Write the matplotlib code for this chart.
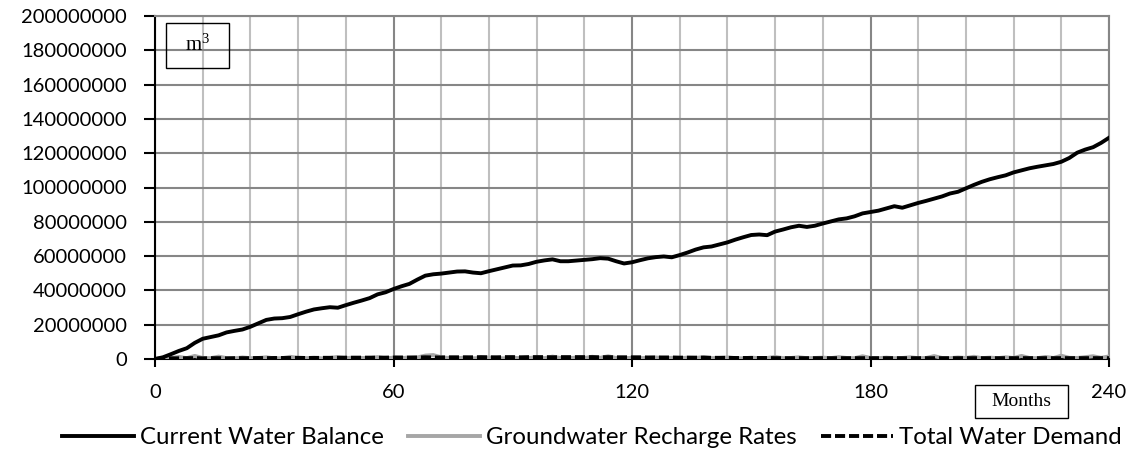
import numpy as np
import matplotlib
matplotlib.use("Agg")
import matplotlib.pyplot as plt
from matplotlib.patches import Rectangle
from matplotlib.ticker import MultipleLocator, FuncFormatter

# months read every 2 months, values in million m3
months = list(range(0, 241, 2))

balance = [0, 1.0, 2.8, 4.7, 6.3, 9.4, 11.8, 12.8, 13.8, 15.5,
           16.4, 17.2, 18.8, 20.8, 22.8, 23.6, 23.8, 24.5, 26.1, 27.6,
           28.9, 29.6, 30.2, 29.9, 31.4, 32.8, 34.1, 35.5, 37.7, 38.9,
           40.8, 42.4, 43.8, 46.3, 48.6, 49.4, 49.8, 50.4, 51.0, 51.1,
           50.4, 50.0, 51.2, 52.3, 53.4, 54.5, 54.6, 55.4, 56.7, 57.5,
           58.1, 57.0, 57.0, 57.4, 57.8, 58.2, 58.8, 58.5, 57.0, 55.7,
           56.4, 57.6, 58.7, 59.4, 59.8, 59.3, 60.6, 62.1, 63.8, 65.1,
           65.6, 66.8, 68.0, 69.6, 71.0, 72.3, 72.6, 72.2, 74.3, 75.5,
           76.8, 77.7, 77.0, 77.7, 79.0, 80.2, 81.4, 82.0, 83.2, 84.9,
           85.7, 86.5, 87.8, 89.1, 88.2, 89.6, 91.0, 92.2, 93.5, 94.8,
           96.5, 97.5, 99.5, 101.5, 103.3, 104.8, 106.0, 107.1, 108.8, 110.0,
           111.2, 112.1, 112.9, 113.7, 115.0, 117.2, 120.3, 122.1, 123.5, 126.0,
           129.0]

recharge = [0, 0.4, 0.6, 1.2, 0.5, 1.8, 0.6, 0.5, 1.4, 0.5,
            0.4, 0.9, 0.5, 0.6, 1.0, 0.4, 0.5, 1.3, 0.6, 0.5,
            0.8, 0.4, 0.6, 1.2, 0.5, 0.9, 0.6, 0.5, 1.1, 0.4,
            0.8, 0.5, 1.0, 0.9, 2.0, 2.3, 1.0, 0.6, 0.5, 0.8,
            0.4, 0.6, 0.9, 0.5, 0.4, 0.7, 0.5, 0.6, 1.0, 0.5,
            1.4, 0.6, 0.5, 0.8, 0.6, 1.3, 0.7, 1.6, 0.6, 0.5,
            0.7, 0.5, 0.6, 0.9, 0.5, 0.7, 0.5, 0.8, 0.6, 1.1,
            0.5, 0.6, 0.9, 0.5, 0.4, 0.8, 0.5, 0.6, 1.2, 0.5,
            0.6, 1.0, 0.5, 0.6, 0.8, 0.5, 1.1, 0.6, 0.5, 1.6,
            0.6, 0.5, 0.8, 0.5, 0.6, 1.0, 0.5, 0.6, 1.7, 0.6,
            0.5, 0.9, 0.6, 1.3, 0.5, 0.8, 0.5, 1.0, 0.6, 1.8,
            0.6, 0.5, 1.2, 0.6, 1.9, 0.7, 0.6, 1.1, 1.6, 0.7,
            1.5]

demand = [0, 0.3, 0.4, 0.4, 0.5, 0.5, 0.4, 0.5, 0.5, 0.4,
          0.5, 0.5, 0.5, 0.6, 0.5, 0.6, 0.6, 0.6, 0.7, 0.6,
          0.6, 0.7, 0.7, 0.7, 0.8, 0.7, 0.8, 0.8, 0.8, 0.8,
          0.9, 0.9, 0.8, 0.9, 1.0, 0.9, 0.9, 1.0, 1.0, 1.0,
          1.0, 1.1, 1.0, 1.0, 1.1, 1.1, 1.0, 1.1, 1.1, 1.1,
          1.0, 1.1, 1.1, 1.1, 1.1, 1.1, 1.0, 1.1, 1.0, 1.0,
          1.0, 1.0, 0.9, 0.9, 0.9, 0.9, 0.8, 0.8, 0.8, 0.8,
          0.7, 0.7, 0.7, 0.6, 0.6, 0.6, 0.6, 0.6, 0.5, 0.5,
          0.5, 0.5, 0.5, 0.5, 0.5, 0.5, 0.5, 0.5, 0.5, 0.5,
          0.5, 0.5, 0.5, 0.5, 0.5, 0.5, 0.5, 0.5, 0.5, 0.5,
          0.5, 0.5, 0.5, 0.5, 0.5, 0.5, 0.5, 0.5, 0.5, 0.5,
          0.5, 0.5, 0.5, 0.5, 0.5, 0.5, 0.5, 0.5, 0.5, 0.5,
          0.5]

plt.rcParams['font.family'] = ['Lato', 'DejaVu Sans']

W, H = 1141, 453
fig = plt.figure(figsize=(W / 100, H / 100), dpi=100)
ax = fig.add_axes([155 / W, 1 - 359 / H, (1109 - 155) / W, (359 - 16) / H])

x = np.array(months)
ax.plot(x, np.array(balance) * 1e6, color='black', lw=2.8,
        label='Current Water Balance', zorder=4)
ax.plot(x, np.array(recharge) * 1e6, color='#a6a6a6', lw=2.8,
        label='Groundwater Recharge Rates', zorder=3)
ax.plot(x, np.array(demand) * 1e6, color='black', lw=2.8, ls=(0, (2.6, 1.0)),
        label='Total Water Demand', zorder=5)

ax.set_xlim(0, 240)
ax.set_ylim(0, 200e6)
ax.xaxis.set_major_locator(MultipleLocator(60))
ax.xaxis.set_minor_locator(MultipleLocator(12))
ax.yaxis.set_major_locator(MultipleLocator(20e6))
ax.yaxis.set_major_formatter(FuncFormatter(lambda v, p: '%d' % round(v)))

# grid
ax.grid(True, which='major', axis='y', color='#868686', lw=1.5)
ax.grid(True, which='minor', axis='x', color='#bfbfbf', lw=1.5)
ax.grid(True, which='major', axis='x', color='#868686', lw=1.5)
ax.set_axisbelow(True)

for s in ['top', 'right']:
    ax.spines[s].set_color('#868686')
    ax.spines[s].set_linewidth(1.5)
ax.spines['left'].set_linewidth(1.5)
ax.spines['bottom'].set_linewidth(1.5)

ax.tick_params(axis='y', which='major', length=8, width=1.5, labelsize=14.5, pad=12)
ax.tick_params(axis='x', which='major', length=6, width=1.5, labelsize=14.5, pad=12)
ax.tick_params(axis='x', which='minor', length=0)

# unit boxes
fig.add_artist(Rectangle((166 / W, 1 - 68 / H), 63 / W, 45 / H,
                         transform=fig.transFigure, fill=False, ec='black', lw=1))
fig.text(197.5 / W, 1 - 45.5 / H, r'$\mathregular{m^3}$', ha='center', va='center',
         fontsize=15, family='Liberation Serif')
fig.add_artist(Rectangle((975 / W, 1 - 418 / H), 93 / W, 33 / H,
                         transform=fig.transFigure, fill=False, ec='black', lw=1))
fig.text(1021.5 / W, 1 - 401.5 / H, 'Months', ha='center', va='center',
         fontsize=14, family='Liberation Serif')

fig.legend(loc='center', bbox_to_anchor=(592 / W, 1 - 438 / H), ncol=3,
           frameon=False, fontsize=17.3, handlelength=3.0, columnspacing=1.0,
           handletextpad=0.25, borderaxespad=0, borderpad=0)

plt.savefig('out.png', dpi=100)
